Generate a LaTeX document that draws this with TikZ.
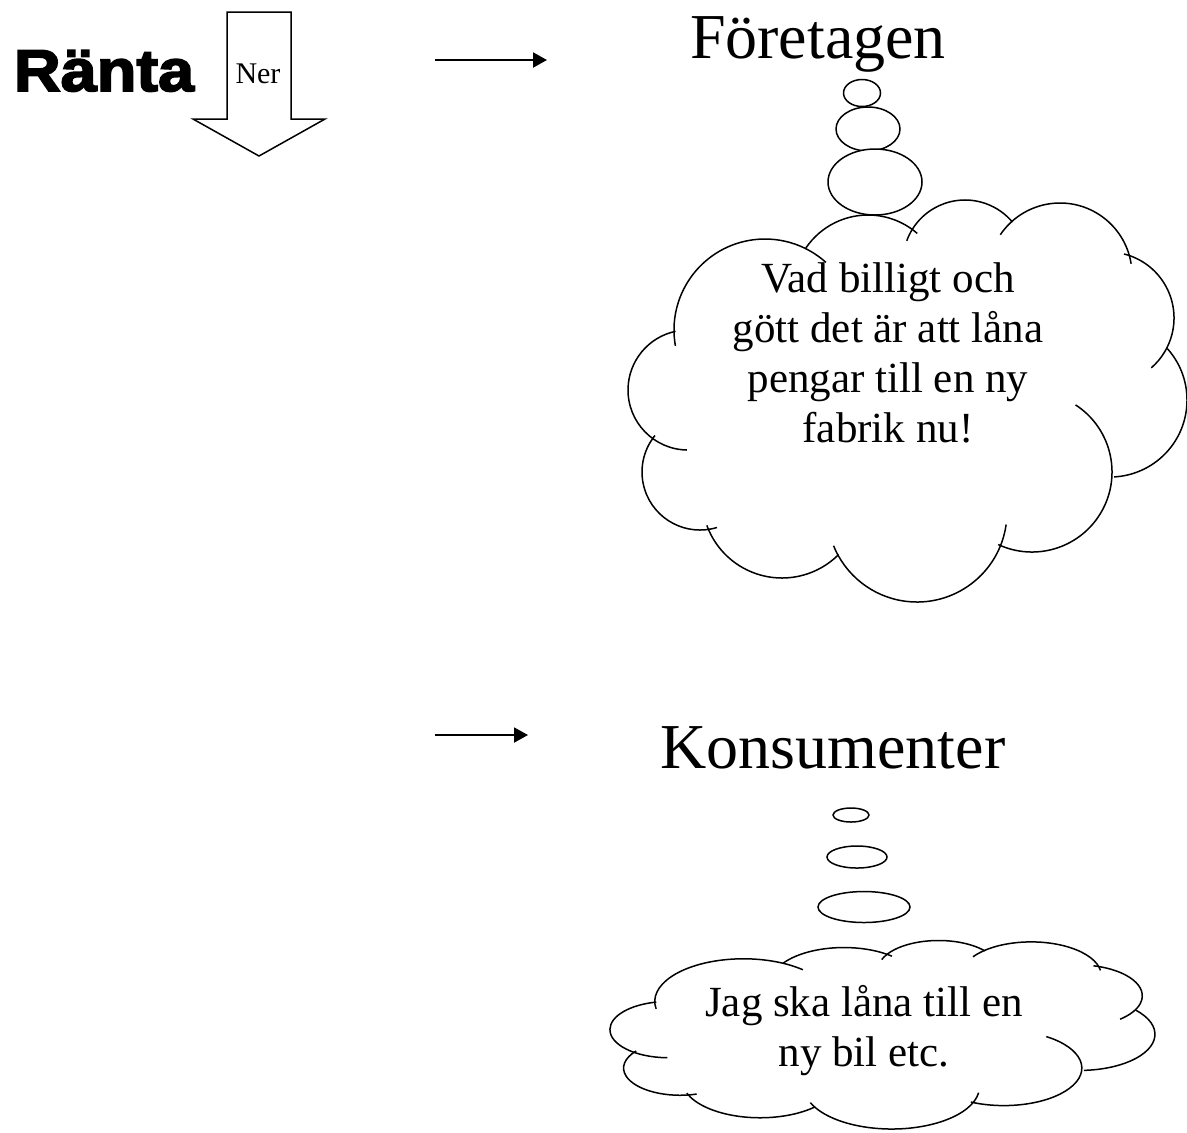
\documentclass[tikz,border=0pt]{standalone}
\usepackage{fontspec}
\setmainfont{Liberation Serif}
\newfontfamily\rantafont[FakeBold=3,FakeStretch=1.1]{Liberation Sans Bold}
\usetikzlibrary{arrows.meta}

\tikzset{
  flow/.style={line width=1pt,-{Triangle[length=7pt,width=7.5pt]}},
  bubble/.style={draw,line width=0.75pt,fill=white},
  puff/.style={line width=0.75pt},
  blockarrow/.style={draw,line width=0.75pt,line join=miter},
  thought/.style={align=center,font=\fontsize{21.5}{25}\selectfont},
}

% the cloud outline, in a 564 x 405 box with its top left corner at the origin
\newcommand{\cloudshape}{%
  \foreach \cx/\cy/\r/\sa/\ea in {140/-131/91/190/48, 243/-91/75/146/49,
      340/-63/62/160/40, 435/-76/72/146/9, 483/-119/66/76/-49,
      485/-201/77/42/-87, 407/-273/80/57/-115, 292/-313/90/-8/-158,
      157/-299/80/-45/-160, 75/-273/58/-73/-219, 63/-191/60/269/102}
    {\draw[puff] (\cx,\cy) ++(\sa:\r) arc[start angle=\sa,end angle=\ea,radius=\r];}%
}

\begin{document}
\begin{tikzpicture}[x=0.5pt,y=0.5pt]
        \path[fill=white] (0,0) rectangle (1187,-1132);
        \useasboundingbox (0,0) rectangle (1187,-1132);

        % interest rate going down
        \node[anchor=base,font=\rantafont\fontsize{29.5}{35}\selectfont] (ranta) at (104,-91) {Ränta};
        \draw[blockarrow] (227,-12) -- (291,-12) -- (291,-119) -- (325,-119)
            -- (259,-156) -- (193,-119) -- (227,-119) -- cycle;
        \node[font=\fontsize{15}{18}\selectfont] (ner) at (258,-74) {Ner};

        % firms
        \coordinate (pilA) at (435,-60);
        \coordinate (pilB) at (547,-60);
        \draw[flow] (pilA) -- (pilB);
        \node[anchor=base,font=\fontsize{32}{38}\selectfont] (foretagen) at (818,-58) {Företagen};

        \begin{scope}[shift={(625,-199)}]
          \cloudshape
        \end{scope}
        \draw[bubble] (862,-93) ellipse [x radius=18.5,y radius=13.5];
        \draw[bubble] (868,-129) ellipse [x radius=32,y radius=22];
        \draw[bubble] (875,-182) ellipse [x radius=47,y radius=33];
        \node[thought] (tanke1) at (888,-353)
            {Vad billigt och\\gött det är att låna\\pengar till en ny\\fabrik nu!};

        % consumers
        \coordinate (pilC) at (435,-735);
        \coordinate (pilD) at (528,-735);
        \draw[flow] (pilC) -- (pilD);
        \node[anchor=base,font=\fontsize{32}{38}\selectfont] (konsument) at (833,-768) {Konsumenter};

        \begin{scope}[shift={(607,-940)},xscale=0.975,yscale=0.469]
          \cloudshape
        \end{scope}
        \draw[bubble] (851,-815) ellipse [x radius=18,y radius=7];
        \draw[bubble] (857,-857) ellipse [x radius=30,y radius=11];
        \draw[bubble] (864,-907) ellipse [x radius=46,y radius=15.5];
        \node[thought] (tanke2) at (864,-1031) {Jag ska låna till en\\ny bil etc.};
\end{tikzpicture}
\end{document}
